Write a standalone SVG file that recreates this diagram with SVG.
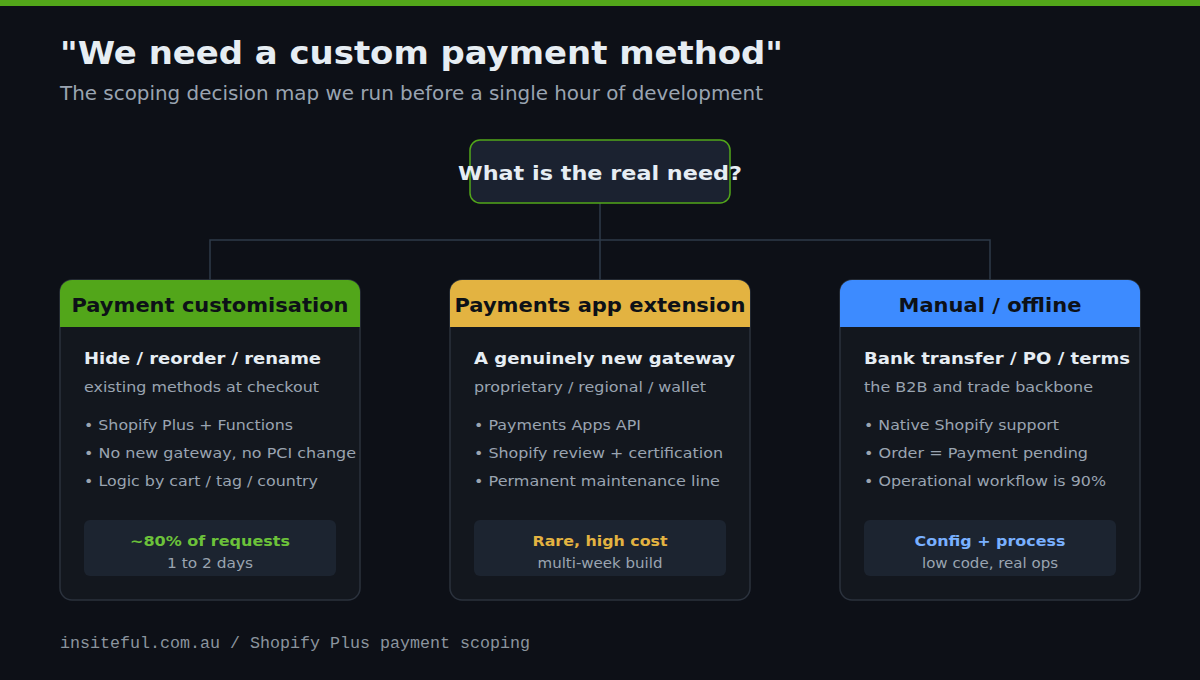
<svg xmlns="http://www.w3.org/2000/svg" width="1200" height="680" viewBox="0 0 1200 680">
<style>
text{font-family:"DejaVu Sans","Noto Sans",sans-serif}
.card{fill:#13171e;stroke:#2b323d;stroke-width:1.5}
.h{font-size:19px;font-weight:bold;fill:#0d1117;text-anchor:middle}
.t{font-size:16px;font-weight:bold;fill:#e6edf3}
.s{font-size:14px;fill:#9aa4b1}
.box{fill:#1c2430}
.bt{font-size:14px;font-weight:bold;text-anchor:middle}
.bs{font-size:14px;fill:#9aa4b1;text-anchor:middle}
.c{stroke:#2e3a4a;stroke-width:1.5;fill:none}
</style>
<rect width="1200" height="680" fill="#0d1017"/>
<rect width="1200" height="6" fill="#52a61a"/>
<text x="60" y="64" font-size="32" font-weight="bold" fill="#e6edf3" textLength="723" lengthAdjust="spacingAndGlyphs">"We need a custom payment method"</text>
<text x="60" y="100" font-size="19" fill="#9aa4b1" textLength="703" lengthAdjust="spacingAndGlyphs">The scoping decision map we run before a single hour of development</text>
<g id="connectors">
<path class="c" d="M600 203V240M210 280V240H990V280M600 240V280"/>
</g>
<g id="root">
<rect x="470" y="140" width="260" height="63" rx="10" fill="#1b2230" stroke="#52a61a" stroke-width="1.5"/>
<text x="600" y="180" font-size="20" font-weight="bold" fill="#e6edf3" text-anchor="middle" textLength="284" lengthAdjust="spacingAndGlyphs">What is the real need?</text>
</g>
<g id="card1">
<rect class="card" x="60" y="280" width="300" height="320" rx="12"/>
<path d="M60 327V292a12 12 0 0 1 12-12H348a12 12 0 0 1 12 12V327Z" fill="#52a61a"/>
<text class="h" x="210" y="312" textLength="277" lengthAdjust="spacingAndGlyphs">Payment customisation</text>
<text class="t" x="84" y="364" textLength="237" lengthAdjust="spacingAndGlyphs">Hide / reorder / rename</text>
<text class="s" x="84" y="392" textLength="235" lengthAdjust="spacingAndGlyphs">existing methods at checkout</text>
<text class="s" x="84" y="430" textLength="209" lengthAdjust="spacingAndGlyphs">• Shopify Plus + Functions</text>
<text class="s" x="84" y="458" textLength="272" lengthAdjust="spacingAndGlyphs">• No new gateway, no PCI change</text>
<text class="s" x="84" y="486" textLength="234" lengthAdjust="spacingAndGlyphs">• Logic by cart / tag / country</text>
<rect class="box" x="84" y="520" width="252" height="56" rx="6"/>
<text class="bt" x="210" y="546" fill="#6cc23a" textLength="160" lengthAdjust="spacingAndGlyphs">~80% of requests</text>
<text class="bs" x="210" y="568" textLength="86" lengthAdjust="spacingAndGlyphs">1 to 2 days</text>
</g>
<g id="card2">
<rect class="card" x="450" y="280" width="300" height="320" rx="12"/>
<path d="M450 327V292a12 12 0 0 1 12-12H738a12 12 0 0 1 12 12V327Z" fill="#e3b341"/>
<text class="h" x="600" y="312" textLength="291" lengthAdjust="spacingAndGlyphs">Payments app extension</text>
<text class="t" x="474" y="364" textLength="261" lengthAdjust="spacingAndGlyphs">A genuinely new gateway</text>
<text class="s" x="474" y="392" textLength="232" lengthAdjust="spacingAndGlyphs">proprietary / regional / wallet</text>
<text class="s" x="474" y="430" textLength="167" lengthAdjust="spacingAndGlyphs">• Payments Apps API</text>
<text class="s" x="474" y="458" textLength="249" lengthAdjust="spacingAndGlyphs">• Shopify review + certification</text>
<text class="s" x="474" y="486" textLength="246" lengthAdjust="spacingAndGlyphs">• Permanent maintenance line</text>
<rect class="box" x="474" y="520" width="252" height="56" rx="6"/>
<text class="bt" x="600" y="546" fill="#e3b341" textLength="135" lengthAdjust="spacingAndGlyphs">Rare, high cost</text>
<text class="bs" x="600" y="568" textLength="125" lengthAdjust="spacingAndGlyphs">multi-week build</text>
</g>
<g id="card3">
<rect class="card" x="840" y="280" width="300" height="320" rx="12"/>
<path d="M840 327V292a12 12 0 0 1 12-12H1128a12 12 0 0 1 12 12V327Z" fill="#3d8bff"/>
<text class="h" x="990" y="312" textLength="183" lengthAdjust="spacingAndGlyphs">Manual / offline</text>
<text class="t" x="864" y="364" textLength="266" lengthAdjust="spacingAndGlyphs">Bank transfer / PO / terms</text>
<text class="s" x="864" y="392" textLength="229" lengthAdjust="spacingAndGlyphs">the B2B and trade backbone</text>
<text class="s" x="864" y="430" textLength="195" lengthAdjust="spacingAndGlyphs">• Native Shopify support</text>
<text class="s" x="864" y="458" textLength="224" lengthAdjust="spacingAndGlyphs">• Order = Payment pending</text>
<text class="s" x="864" y="486" textLength="242" lengthAdjust="spacingAndGlyphs">• Operational workflow is 90%</text>
<rect class="box" x="864" y="520" width="252" height="56" rx="6"/>
<text class="bt" x="990" y="546" fill="#79b0ff" textLength="151" lengthAdjust="spacingAndGlyphs">Config + process</text>
<text class="bs" x="990" y="568" textLength="136" lengthAdjust="spacingAndGlyphs">low code, real ops</text>
</g>
<text x="60" y="648" style="font-family:'Liberation Mono','DejaVu Sans Mono',monospace" font-size="16" fill="#8b949e" textLength="470" lengthAdjust="spacingAndGlyphs">insiteful.com.au / Shopify Plus payment scoping</text>
</svg>
